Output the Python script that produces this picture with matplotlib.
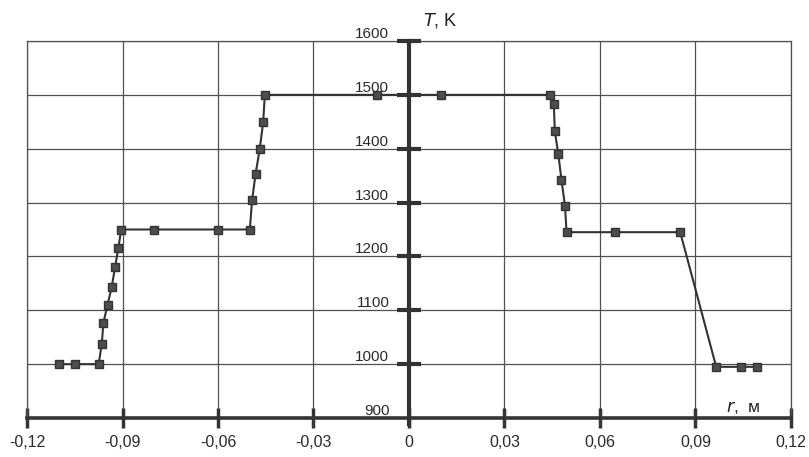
import numpy as np
import matplotlib.pyplot as plt

# radius, m and temperature, K
r_left = [-0.110, -0.105, -0.0975, -0.0965, -0.0960, -0.0947, -0.0934, -0.0923,
          -0.0913, -0.0904, -0.080, -0.060, -0.050, -0.0493, -0.0482, -0.0469,
          -0.0458, -0.0453]
t_left = [1000, 1000, 1000, 1038, 1077, 1110, 1143, 1181,
          1216, 1250, 1250, 1250, 1250, 1304, 1353, 1399,
          1450, 1500]
r_mid = [-0.010, 0.010]
t_mid = [1500, 1500]
r_right = [0.0443, 0.0455, 0.0458, 0.0469, 0.0479, 0.0490, 0.0495, 0.0648,
           0.0852, 0.0965, 0.1043, 0.1094]
t_right = [1500, 1483, 1433, 1390, 1342, 1294, 1245, 1245,
           1245, 995, 995, 995]

x_ticks = [-0.12, -0.09, -0.06, -0.03, 0, 0.03, 0.06, 0.09, 0.12]
x_labels = ['-0,12', '-0,09', '-0,06', '-0,03', '0', '0,03', '0,06', '0,09', '0,12']
y_ticks = [900, 1000, 1100, 1200, 1300, 1400, 1500, 1600]

plt.rcParams['font.family'] = ['Liberation Sans', 'DejaVu Sans']

fig = plt.figure(figsize=(8.09, 4.57), dpi=100)
W, H = 809, 457
ax = fig.add_axes([27 / W, (H - 418) / H, (791 - 27) / W, (418 - 41) / H])

grid_c = '#505050'
ax.set_xlim(-0.12, 0.12)
ax.set_ylim(900, 1600)
for x in x_ticks:
    if x != 0:
        ax.axvline(x, color=grid_c, lw=0.9, zorder=1)
for y in y_ticks[1:]:
    ax.axhline(y, color=grid_c, lw=0.9, zorder=1)

for s in ['left', 'right', 'top']:
    ax.spines[s].set_color(grid_c)
    ax.spines[s].set_linewidth(0.9)
ax.spines['bottom'].set_color('#333333')
ax.spines['bottom'].set_linewidth(2.6)

ax.set_xticks(x_ticks)
ax.set_xticklabels(x_labels, fontsize=11.5, color='#2a2a2a')
ax.tick_params(axis='x', direction='inout', length=14, width=2.5, color='#333333', pad=5)
ax.set_yticks([])

# vertical axis through r = 0 with crossing ticks
ax.plot([0, 0], [888, 1600], color='#333333', lw=3, clip_on=False, zorder=3)
ax.plot(np.zeros(len(y_ticks) - 1), y_ticks[1:], linestyle='none', marker='_',
        markersize=17, mew=3, color='#333333', clip_on=False, zorder=3)
for y in y_ticks:
    ax.text(-0.0062, y, str(y), ha='right', va='bottom', fontsize=11,
            color='#2a2a2a', zorder=4)

line_kw = dict(color='#333333', lw=1.5, marker='s', markersize=6,
               markerfacecolor='#4d4d4d', markeredgecolor='#333333', zorder=5)
ax.plot(r_left + r_mid + r_right, t_left + t_mid + t_right, **line_kw)

ax.text(0.0045, 1638, r'$T$, K', fontsize=13, ha='left', va='center',
        color='#222222', clip_on=False)
ax.text(0.0995, 920, r'$r$,  м', fontsize=12.5, ha='left', va='center',
        color='#222222')

fig.savefig('out.png', dpi=100, facecolor='white')
